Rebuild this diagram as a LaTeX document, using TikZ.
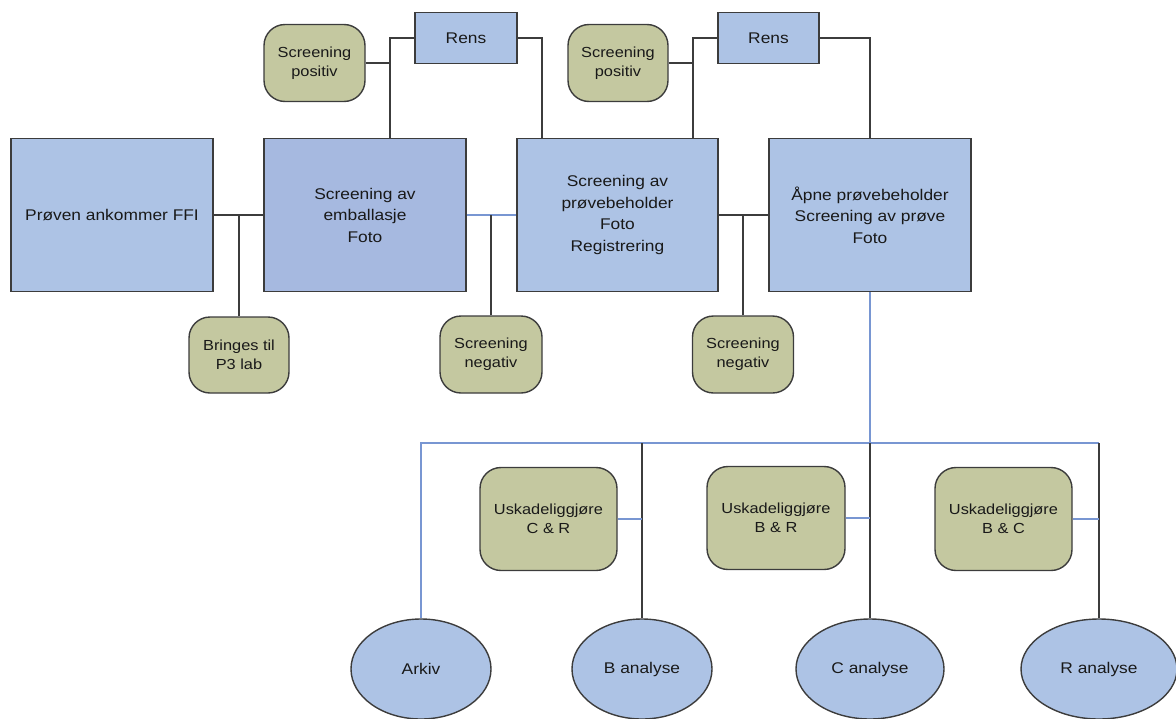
\documentclass[tikz,border=0pt]{standalone}
\usepackage{fontspec}
\setmainfont{Liberation Sans}[FakeStretch=1.12]
\usepackage{tikz}
\usetikzlibrary{shapes.geometric}
\usepackage{xcolor}
\definecolor{boxblue}{RGB}{173,195,229}
\definecolor{embblue}{RGB}{166,185,224}
\definecolor{olivebox}{RGB}{196,200,160}
\definecolor{linegrey}{RGB}{60,60,60}
\definecolor{linkblue}{RGB}{120,150,210}

\begin{document}
\begin{tikzpicture}[x=1pt, y=-1pt,
        hoved/.style={draw=linegrey, line width=1.4pt, fill=boxblue, inner sep=0pt,
            align=center, text=black!90, font=\fontsize{15.5}{21.5}\selectfont},
        grønn/.style={draw=linegrey, line width=1.4pt, fill=olivebox, inner sep=0pt,
            rounded corners=21pt, align=center, text=black!90,
            font=\fontsize{14.6}{19}\selectfont},
        analyse/.style={draw=linegrey, line width=1.4pt, fill=boxblue, ellipse, inner sep=0pt,
            minimum height=100pt, text=black!90, font=\fontsize{15.5}{21.5}\selectfont},
        link/.style={draw=linegrey, line width=1.5pt},
        bluelink/.style={draw=linkblue, line width=1.5pt}]

        % Ramme
        \useasboundingbox (0,0) rectangle (1176,718);
        \clip (0,0) rectangle (1176,718);

        % --- Hovedbokser ---
        \node[hoved, minimum width=202pt, minimum height=153pt] (proven) at (112,215) {Prøven ankommer FFI};
        \node[hoved, fill=embblue, minimum width=202pt, minimum height=153pt] (emb) at (365,215)
            {Screening av\\emballasje\\Foto};
        \node[hoved, minimum width=201pt, minimum height=153pt] (prbeh) at (617.5,215)
            {Screening av\\prøvebeholder\\Foto\\Registrering};
        \node[hoved, minimum width=202pt, minimum height=153pt] (apne) at (870,215)
            {Åpne prøvebeholder\\Screening av prøve\\Foto};

        % --- Rens ---
        \node[hoved, minimum width=102pt, minimum height=51pt] (rens1) at (466,38) {Rens};
        \node[hoved, minimum width=101pt, minimum height=51pt] (rens2) at (768.5,38) {Rens};

        % --- Grønne bokser ---
        \node[grønn, minimum width=101pt, minimum height=77pt] (pos1) at (314.5,63) {Screening\\positiv};
        \node[grønn, minimum width=100pt, minimum height=77pt] (pos2) at (618,63) {Screening\\positiv};
        \node[grønn, minimum width=100pt, minimum height=76pt] (bringes) at (239,355) {Bringes til\\P3 lab};
        \node[grønn, minimum width=102pt, minimum height=77pt] (neg1) at (491,354.5) {Screening\\negativ};
        \node[grønn, minimum width=101pt, minimum height=77pt] (neg2) at (743,354.5) {Screening\\negativ};

        \node[grønn, minimum width=137pt, minimum height=103pt] (usk1) at (548.5,519) {Uskadeliggjøre\\C \& R};
        \node[grønn, minimum width=138pt, minimum height=103pt] (usk2) at (776,518) {Uskadeliggjøre\\B \& R};
        \node[grønn, minimum width=137pt, minimum height=103pt] (usk3) at (1003.5,519) {Uskadeliggjøre\\B \& C};

        % --- Analyser ---
        \node[analyse, minimum width=140pt] (arkiv) at (421,669) {Arkiv};
        \node[analyse, minimum width=140pt] (banal) at (642,669) {B analyse};
        \node[analyse, minimum width=148pt] (canal) at (870,669) {C analyse};
        \node[analyse, minimum width=156pt] (ranal) at (1099,669) {R analyse};

        % --- Linjer oppe ---
        \coordinate (r1) at ([xshift=25pt]emb.north);
        \coordinate (r2) at ([xshift=-75.5pt]prbeh.north);
        \coordinate (r3) at ([xshift=75.5pt]prbeh.north);
        \draw[link] (rens1.west) -| (r1);
        \draw[link] (pos1.east) -- (pos1.east -| r1);
        \draw[link] (rens1.east) -| (r2);
        \draw[link] (rens2.west) -| (r3);
        \draw[link] (pos2.east) -- (pos2.east -| r3);
        \draw[link] (rens2.east) -| (apne.north);

        % --- Linjer mellom boksene ---
        \draw[link] (proven.east) -- (emb.west);
        \draw[link] (bringes.north) -- (bringes.north |- proven.east);
        \draw[bluelink] (emb.east) -- (prbeh.west);
        \draw[link] (neg1.north) -- (neg1.north |- emb.east);
        \draw[link] (prbeh.east) -- (apne.west);
        \draw[link] (neg2.north) -- (neg2.north |- prbeh.east);

        % --- Linjer nede ---
        \coordinate (bus) at (870,443);
        \draw[bluelink] (apne.south) -- (bus);
        \draw[bluelink] (arkiv.north) |- (bus) -- (bus -| ranal.north);
        \draw[link] (banal.north) -- (banal.north |- bus);
        \draw[link] (canal.north) -- (bus);
        \draw[link] (ranal.north) -- (ranal.north |- bus);
        \draw[bluelink] (usk1.east) -- (usk1.east -| banal.north);
        \draw[bluelink] (usk2.east) -- (usk2.east -| canal.north);
        \draw[bluelink] (usk3.east) -- (usk3.east -| ranal.north);
    \end{tikzpicture}
\end{document}
